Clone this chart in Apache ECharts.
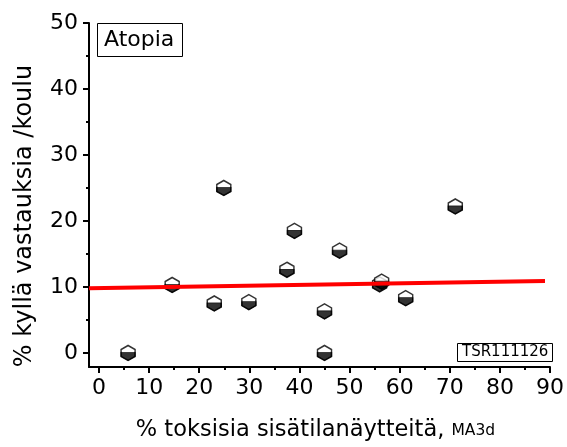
<!DOCTYPE html>
<html>
<head>
<meta charset="utf-8">
<script src="https://cdn.jsdelivr.net/npm/echarts@6/dist/echarts.min.js"></script>
<style>
  html, body { margin: 0; padding: 0; background: #fff; }
  #chart { width: 567px; height: 447px; }
</style>
</head>
<body>
<div id="chart"></div>
<script>
// % toksisia sisätilanäytteitä (x) vs % kyllä vastauksia (y), yksi piste per koulu
const toxicPct = [5.8, 14.6, 23.0, 24.9, 29.9, 37.5, 39.0, 45.0, 45.0, 48.0, 56.0, 56.4, 61.2, 71.1];
const yesPct = [0, 10.3, 7.5, 25.0, 7.7, 12.6, 18.5, 6.3, 0, 15.5, 10.4, 10.8, 8.3, 22.2];

// lineaarinen sovitus (luettu kuvasta)
const fitX = [-2, 89];
const fitY = [9.8, 10.9];

const xMajor = [0, 10, 20, 30, 40, 50, 60, 70, 80, 90];
const xMinor = [5, 15, 25, 35, 45, 55, 65, 75, 85];
const yMajor = [0, 10, 20, 30, 40, 50];
const yMinor = [5, 15, 25, 35, 45];

const FONT = "DejaVu Sans, Liberation Sans, sans-serif";
const points = toxicPct.map((x, i) => [x, yesPct[i]]);
const fitLine = fitX.map((x, i) => [x, fitY[i]]);

const hexPath = "path://M7,0L14,4L14,11L7,15L0,11L0,4Z";
const halfHexPath = "path://M0,7L14,7L14,11L7,15L0,11Z";

const chart = echarts.init(document.getElementById("chart"));

const axisBase = (min, max) => ({
  type: "value",
  min: min,
  max: max,
  splitLine: { show: false },
  axisLine: { show: true, onZero: false, lineStyle: { color: "#000", width: 2 } },
});

const option = {
  animation: false,
  textStyle: { fontFamily: FONT },
  title: [
    {
      text: "Atopia",
      left: 97,
      top: 23,
      padding: [6, 8, 6, 7],
      borderColor: "#000",
      borderWidth: 1,
      textStyle: { fontFamily: FONT, fontSize: 22, fontWeight: "normal", color: "#000" },
    },
    {
      text: "TSR111126",
      left: 457,
      top: 343,
      padding: [2, 4, 2, 5],
      borderColor: "#000",
      borderWidth: 1,
      textStyle: { fontFamily: FONT, fontSize: 15, fontWeight: "normal", color: "#000" },
    },
  ],
  grid: { left: 89, right: 15, top: 23, bottom: 80, containLabel: false },
  xAxis: [
    Object.assign(axisBase(-2, 90), {
      position: "bottom",
      name: "% toksisia sisätilanäytteitä, {s|MA3d}",
      nameLocation: "middle",
      nameGap: 52,
      nameTextStyle: {
        fontFamily: FONT,
        fontSize: 22.5,
        color: "#000",
        padding: [0, 8, 0, 0],
        rich: { s: { fontFamily: FONT, fontSize: 15.5, color: "#000" } },
      },
      axisTick: { show: true, customValues: xMajor, length: 6, lineStyle: { color: "#000", width: 2 } },
      axisLabel: { customValues: xMajor, margin: 10, fontFamily: FONT, fontSize: 22, color: "#000" },
    }),
    Object.assign(axisBase(-2, 90), {
      position: "bottom",
      axisLine: { show: false, onZero: false },
      axisTick: { show: true, customValues: xMinor, length: 3, lineStyle: { color: "#000", width: 2 } },
      axisLabel: { show: false },
    }),
  ],
  yAxis: [
    Object.assign(axisBase(-2.13, 50), {
      position: "left",
      name: "% kyllä vastauksia /koulu",
      nameLocation: "middle",
      nameGap: 52,
      nameTextStyle: { fontFamily: FONT, fontSize: 24, color: "#000", padding: [0, 42, 0, 0] },
      axisTick: { show: true, customValues: yMajor, length: 6, lineStyle: { color: "#000", width: 2 } },
      axisLabel: { customValues: yMajor, margin: 11, fontFamily: FONT, fontSize: 22, color: "#000" },
    }),
    Object.assign(axisBase(-2.13, 50), {
      position: "left",
      axisLine: { show: false, onZero: false },
      axisTick: { show: true, customValues: yMinor, length: 3, lineStyle: { color: "#000", width: 2 } },
      axisLabel: { show: false },
    }),
  ],
  series: [
    {
      type: "scatter",
      data: points,
      symbol: hexPath,
      symbolSize: [14, 15],
      itemStyle: { color: "#fff", borderColor: "#000", borderWidth: 1.5 },
      z: 2,
    },
    {
      type: "scatter",
      data: points,
      symbol: halfHexPath,
      symbolSize: [14, 8],
      symbolOffset: [0, 3.5],
      itemStyle: { color: "#000", borderColor: "#000", borderWidth: 1 },
      z: 3,
    },
    {
      type: "line",
      data: fitLine,
      showSymbol: false,
      symbol: "none",
      lineStyle: { color: "#ff0000", width: 4 },
      z: 4,
    },
  ],
};

chart.setOption(option);
</script>
</body>
</html>
